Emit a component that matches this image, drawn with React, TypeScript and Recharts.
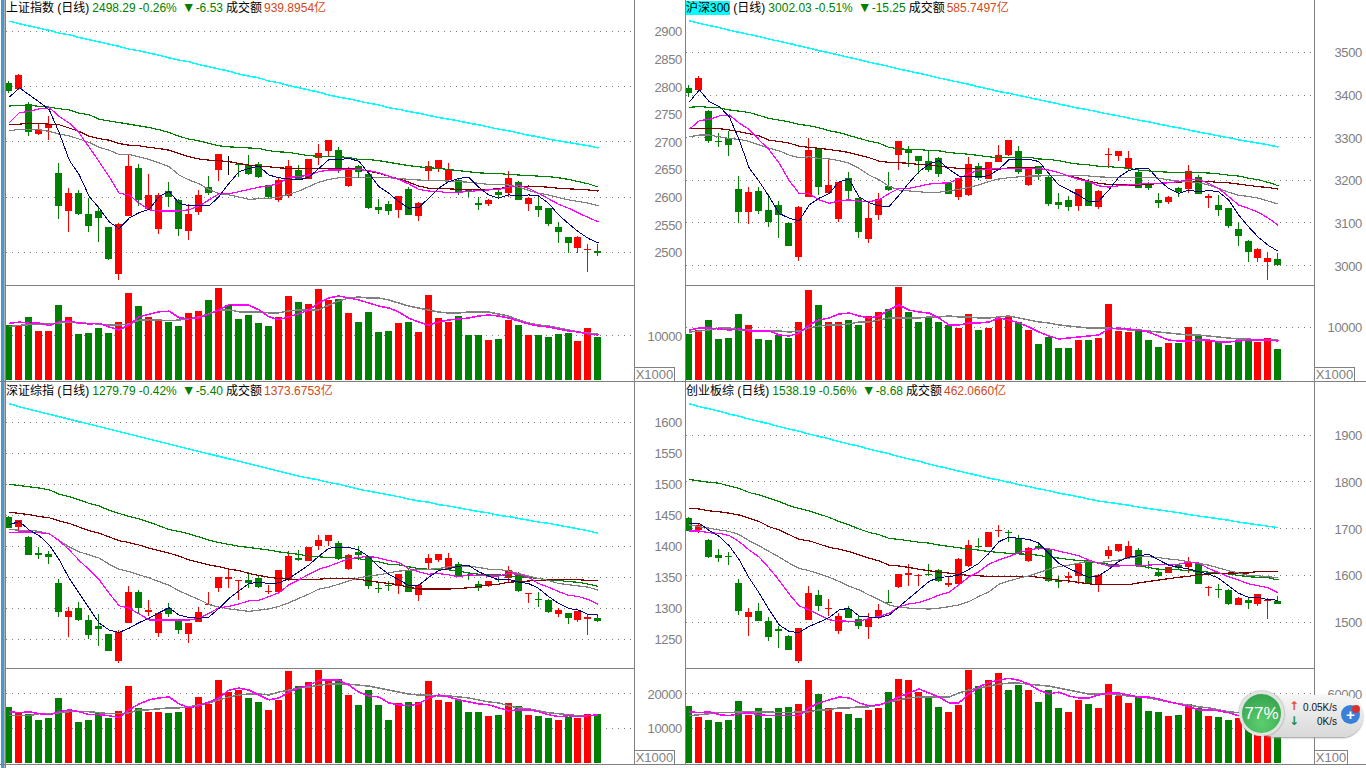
import { Bar, CartesianGrid, ComposedChart, Line, XAxis, YAxis } from 'recharts';

// 上证指数
const shOpen = [2807,2795,2769,2714,2725,2644,2575,2607,2569,2575,2546,2461,2566,2653,2578,2542,2611,2595,2539,2573,2618,2649,2665,2660,2658,2660,2622,2595,2602,2649,2633,2671,2684,2685,2620,2656,2642,2582,2587,2577,2615,2566,2647,2653,2631,2631,2612,2589,2587,2609,2607,2627,2587,2584,2580,2546,2528,2508,2504,2502];
const shClose = [2792,2821,2718,2723,2732,2584,2607,2570,2548,2562,2488,2551,2656,2595,2604,2604,2600,2542,2569,2604,2607,2678,2665,2658,2642,2636,2600,2631,2656,2633,2669,2680,2703,2649,2652,2646,2580,2577,2575,2602,2568,2589,2656,2667,2650,2607,2609,2586,2595,2604,2635,2595,2598,2577,2551,2537,2517,2528,2506,2498];
const shHigh = [2811,2823,2773,2734,2746,2662,2616,2613,2598,2584,2546,2554,2676,2660,2642,2607,2627,2597,2587,2613,2638,2678,2674,2661,2676,2664,2622,2635,2667,2658,2669,2696,2703,2691,2655,2658,2646,2596,2593,2602,2618,2591,2665,2667,2662,2633,2613,2600,2597,2613,2647,2629,2600,2600,2580,2555,2528,2529,2515,2515];
const shLow = [2788,2794,2711,2713,2703,2560,2537,2567,2537,2519,2486,2450,2566,2584,2578,2533,2582,2530,2522,2568,2604,2629,2640,2636,2640,2635,2598,2591,2598,2631,2633,2658,2674,2644,2618,2636,2578,2569,2568,2562,2568,2557,2631,2645,2631,2604,2600,2577,2584,2598,2600,2595,2575,2564,2548,2517,2499,2499,2464,2493];
const shMa5 = [2781,2798,2785,2772,2758,2716,2667,2640,2601,2580,2555,2543,2562,2572,2578,2601,2610,2589,2584,2584,2584,2601,2625,2646,2652,2656,2640,2635,2633,2631,2636,2652,2668,2668,2670,2665,2643,2619,2607,2592,2580,2581,2598,2616,2628,2634,2636,2618,2604,2598,2604,2602,2604,2602,2589,2568,2552,2537,2525,2517];
const shMa10 = [2735,2753,2755,2760,2762,2746,2734,2716,2690,2664,2637,2607,2604,2589,2577,2575,2575,2575,2577,2584,2595,2606,2606,2610,2614,2618,2620,2625,2636,2637,2640,2646,2649,2649,2650,2650,2648,2644,2638,2632,2624,2614,2611,2610,2608,2609,2610,2612,2613,2614,2618,2621,2616,2607,2597,2587,2580,2571,2563,2555];
const shMa20 = [2720,2723,2723,2722,2719,2714,2711,2705,2699,2690,2685,2677,2677,2673,2668,2662,2655,2640,2631,2624,2614,2606,2604,2600,2596,2597,2598,2600,2605,2611,2619,2627,2632,2635,2636,2636,2636,2636,2635,2634,2632,2631,2630,2630,2629,2628,2627,2625,2623,2623,2622,2618,2612,2607,2604,2599,2595,2592,2589,2584];
const shMa30 = [2732,2732,2734,2734,2732,2731,2725,2719,2710,2706,2703,2697,2694,2693,2690,2688,2685,2679,2673,2669,2667,2666,2664,2661,2658,2656,2655,2653,2652,2652,2652,2652,2652,2652,2652,2650,2647,2643,2638,2633,2627,2620,2616,2616,2615,2614,2614,2614,2614,2615,2619,2619,2620,2619,2618,2616,2615,2614,2613,2611];
const shMa60 = [2765,2766,2767,2764,2763,2760,2758,2752,2749,2741,2738,2735,2732,2729,2726,2722,2717,2710,2705,2702,2697,2693,2691,2690,2689,2688,2684,2682,2681,2678,2675,2674,2674,2673,2672,2668,2668,2666,2663,2660,2657,2655,2653,2652,2650,2648,2646,2644,2643,2643,2641,2640,2639,2638,2637,2635,2632,2628,2624,2618];
const shMa250 = [2919,2914,2910,2906,2902,2897,2894,2889,2885,2881,2877,2873,2868,2865,2861,2857,2852,2848,2845,2840,2836,2832,2828,2823,2819,2816,2810,2807,2802,2798,2794,2790,2785,2781,2778,2774,2770,2767,2762,2759,2755,2752,2748,2744,2741,2738,2734,2731,2727,2723,2720,2716,2712,2709,2705,2702,2699,2696,2693,2689];
const shVol = [12430,12430,14220,11110,11110,16890,14220,10440,10670,11780,10670,13110,19560,16670,14220,13780,13110,12220,15110,15560,18000,20670,16890,13780,14670,12890,12220,14220,18890,17560,17110,20440,17980,18200,15060,13030,15280,10790,11010,12810,13030,10790,19100,13930,13030,14380,10110,10110,8990,9210,13480,12360,10110,10110,9660,10340,10560,8760,11690,9660];
const shVolMa5 = [12730,13020,12730,12800,12210,13100,13250,12800,12580,12730,11910,11250,12360,14210,14800,15320,15470,13990,13760,13990,14800,15760,16950,16800,16800,15760,14210,13540,14210,14870,15760,17320,18430,18880,18430,17980,17300,16630,16180,15280,13930,13030,12360,13030,13480,13710,13930,14380,14610,14380,13930,13260,12580,12130,11910,11460,11010,10790,10340,10110];
const shVolMa10 = [11990,12280,12430,12580,12580,12800,13020,12800,12730,12580,12360,12360,12580,13470,13540,13470,13320,13470,13760,14210,14870,15760,15760,15320,15320,15320,15100,15100,15540,15760,15690,15760,16850,17750,18430,18650,18430,18430,17980,17300,16630,16180,15730,15280,15060,15060,15280,15280,15280,14830,14380,13480,12810,12360,12130,11680,11240,10790,10560,10340];

// 沪深300
const hsOpen = [3416,3412,3362,3292,3298,3179,3126,3175,3130,3142,3100,3020,3161,3273,3170,3109,3205,3158,3062,3118,3186,3259,3273,3257,3245,3252,3193,3161,3165,3233,3203,3243,3259,3269,3189,3233,3208,3149,3154,3140,3198,3137,3261,3257,3229,3219,3191,3154,3149,3182,3180,3208,3158,3142,3135,3086,3058,3018,3008,3015];
const hsClose = [3405,3440,3292,3291,3283,3126,3172,3128,3102,3118,3046,3137,3271,3184,3189,3196,3175,3079,3111,3156,3177,3292,3264,3245,3224,3215,3168,3205,3238,3205,3243,3259,3295,3219,3227,3215,3144,3142,3137,3180,3140,3175,3262,3269,3252,3183,3182,3147,3161,3173,3222,3168,3163,3130,3093,3069,3032,3039,3018,3002];
const hsHigh = [3423,3445,3365,3310,3315,3210,3184,3184,3168,3151,3101,3140,3299,3276,3247,3196,3219,3158,3149,3170,3219,3292,3280,3257,3271,3255,3193,3205,3255,3240,3243,3283,3295,3280,3228,3233,3210,3170,3163,3180,3203,3177,3276,3269,3269,3229,3196,3170,3163,3184,3236,3212,3168,3165,3135,3102,3060,3041,3032,3029];
const hsLow = [3396,3412,3287,3278,3257,3100,3097,3121,3090,3064,3046,3011,3161,3165,3170,3102,3154,3064,3053,3107,3175,3224,3231,3215,3219,3208,3168,3154,3163,3201,3203,3243,3257,3215,3187,3201,3140,3133,3128,3128,3140,3133,3229,3245,3224,3181,3177,3135,3144,3161,3170,3168,3135,3116,3088,3046,3008,3008,2966,2999];
const hsMa5 = [3384,3412,3384,3373,3349,3294,3228,3197,3161,3122,3111,3105,3142,3158,3169,3197,3202,3161,3147,3140,3138,3165,3194,3220,3238,3246,3226,3210,3208,3208,3211,3226,3248,3248,3249,3244,3216,3189,3177,3165,3150,3151,3177,3207,3223,3228,3228,3201,3181,3169,3177,3173,3176,3173,3154,3119,3091,3066,3047,3033];
const hsMa10 = [3320,3340,3343,3351,3353,3334,3319,3294,3271,3240,3199,3169,3168,3154,3146,3152,3154,3151,3150,3154,3169,3181,3181,3186,3191,3193,3194,3204,3216,3224,3226,3228,3228,3228,3228,3228,3224,3218,3210,3202,3197,3187,3184,3187,3189,3191,3193,3193,3194,3197,3202,3201,3193,3181,3162,3142,3134,3125,3111,3094];
const hsMa20 = [3302,3306,3306,3302,3298,3296,3291,3283,3275,3269,3259,3253,3255,3251,3250,3246,3240,3228,3212,3201,3186,3177,3175,3173,3171,3172,3175,3179,3183,3189,3197,3203,3206,3208,3210,3210,3211,3212,3212,3212,3210,3208,3207,3207,3207,3207,3207,3205,3201,3198,3197,3194,3189,3181,3172,3165,3162,3158,3151,3144];
const hsMa30 = [3321,3321,3322,3321,3318,3314,3309,3304,3294,3291,3287,3280,3277,3275,3272,3269,3265,3259,3253,3245,3242,3241,3240,3237,3236,3233,3230,3228,3227,3227,3226,3226,3229,3229,3230,3228,3224,3218,3210,3205,3198,3193,3190,3189,3189,3189,3190,3193,3194,3195,3198,3198,3197,3195,3194,3191,3188,3185,3183,3179];
const hsMa60 = [3371,3373,3371,3370,3365,3362,3359,3352,3345,3341,3337,3331,3328,3323,3316,3312,3305,3298,3292,3287,3277,3274,3272,3272,3270,3269,3265,3263,3261,3258,3255,3253,3254,3254,3254,3250,3249,3246,3241,3238,3236,3233,3232,3230,3228,3224,3222,3220,3219,3219,3219,3218,3217,3215,3212,3210,3205,3201,3195,3187];
const hsMa250 = [3574,3568,3563,3558,3552,3547,3542,3537,3531,3526,3521,3515,3510,3504,3499,3494,3488,3483,3477,3472,3467,3461,3456,3451,3446,3440,3435,3430,3425,3419,3414,3408,3404,3399,3394,3389,3384,3379,3374,3369,3365,3360,3355,3351,3346,3341,3337,3332,3327,3323,3318,3313,3309,3304,3300,3295,3291,3287,3283,3278];
const hsVol = [8680,9440,11320,7740,7930,12450,10380,7740,7550,8490,7930,10950,16980,14150,10950,10950,11320,10380,12080,12830,13400,17550,12830,10950,11890,10950,10380,9810,12450,9440,9810,11700,12080,10950,9440,6790,8110,6040,6040,7550,7550,7930,14340,9250,9060,9440,7550,6230,6980,6980,10000,8490,7550,7170,6610,7550,7550,7170,7930,5850];
const hsVolMa5 = [9440,9810,9810,9620,9440,9620,9250,9250,9250,8490,8300,8870,10380,11320,11700,12450,12640,12080,11700,12080,13210,14150,13210,12830,12640,11700,10380,10380,10760,10760,10950,11700,11320,10760,10000,9060,8300,7740,7930,8110,8300,8490,9620,9810,9620,9440,9060,8300,7550,7360,7360,7550,7550,7170,7170,7360,7550,7550,7550,7360];
const hsVolMa10 = [9060,9250,9440,9810,9810,9440,9440,9250,9250,9250,9060,9250,9810,10190,10380,10380,10570,10950,10950,11320,11700,11700,11700,11700,11890,11890,12080,11890,11890,11700,11700,11890,12080,11700,11320,10950,10760,10380,10190,10000,9810,9810,9810,9620,9440,9440,9250,9060,8870,8680,8490,8490,8300,8110,7930,7740,7740,7550,7550,7550];

// 深证综指
const szOpen = [1447,1431,1415,1389,1388,1341,1286,1301,1281,1271,1259,1215,1276,1326,1294,1260,1301,1283,1259,1278,1305,1333,1347,1344,1346,1349,1326,1326,1346,1381,1376,1400,1409,1405,1363,1391,1383,1333,1338,1336,1362,1321,1373,1378,1363,1371,1354,1339,1336,1348,1349,1355,1323,1315,1313,1291,1292,1281,1283,1284];
const szClose = [1430,1442,1386,1386,1383,1294,1296,1281,1257,1267,1231,1262,1326,1301,1297,1292,1291,1265,1276,1294,1307,1351,1351,1346,1341,1334,1328,1362,1384,1378,1399,1410,1418,1380,1386,1386,1336,1331,1336,1355,1326,1338,1381,1388,1381,1352,1352,1333,1344,1346,1362,1328,1324,1313,1294,1297,1284,1296,1286,1279];
const szHigh = [1449,1442,1417,1399,1392,1347,1302,1310,1289,1291,1259,1265,1336,1330,1313,1294,1309,1283,1276,1302,1326,1351,1362,1346,1359,1354,1338,1362,1392,1394,1399,1418,1418,1409,1388,1400,1384,1341,1344,1355,1365,1339,1388,1388,1389,1375,1359,1344,1344,1354,1368,1359,1324,1326,1315,1300,1292,1296,1289,1291];
const szLow = [1429,1427,1386,1380,1371,1286,1254,1280,1251,1239,1231,1212,1276,1292,1288,1254,1286,1259,1244,1278,1305,1326,1333,1313,1333,1333,1323,1326,1344,1376,1376,1394,1400,1378,1362,1378,1331,1325,1328,1323,1326,1312,1363,1375,1363,1350,1346,1328,1334,1342,1342,1326,1309,1302,1292,1286,1275,1278,1257,1278];
const szMa5 = [1435,1440,1426,1417,1402,1378,1348,1324,1300,1276,1265,1261,1268,1277,1284,1293,1301,1289,1285,1284,1286,1300,1316,1328,1340,1342,1340,1341,1348,1359,1370,1384,1397,1398,1398,1394,1383,1367,1355,1346,1337,1337,1350,1361,1364,1368,1369,1359,1352,1346,1347,1342,1340,1332,1319,1308,1300,1297,1290,1289];
const szMa10 = [1422,1423,1423,1422,1420,1409,1394,1377,1362,1346,1324,1304,1300,1291,1281,1281,1281,1281,1281,1284,1292,1301,1303,1307,1312,1313,1319,1325,1338,1346,1355,1363,1368,1374,1380,1382,1384,1381,1377,1374,1364,1359,1355,1356,1354,1351,1354,1353,1352,1352,1356,1355,1350,1340,1334,1327,1321,1319,1314,1306];
const szMa20 = [1427,1426,1426,1424,1420,1409,1399,1391,1386,1381,1371,1363,1359,1354,1349,1343,1337,1328,1321,1314,1306,1302,1299,1297,1295,1297,1299,1303,1309,1316,1323,1331,1334,1339,1344,1349,1352,1354,1357,1360,1361,1363,1363,1364,1367,1368,1368,1366,1363,1363,1360,1356,1352,1348,1345,1340,1338,1336,1334,1329];
const szMa30 = [1455,1453,1451,1448,1446,1441,1437,1431,1425,1421,1415,1409,1406,1402,1397,1393,1389,1384,1378,1374,1370,1367,1363,1361,1356,1353,1350,1348,1347,1347,1347,1347,1348,1348,1348,1347,1344,1342,1340,1338,1334,1331,1331,1331,1331,1332,1333,1335,1338,1339,1342,1343,1344,1345,1346,1346,1346,1346,1345,1345];
const szMa60 = [1500,1498,1496,1494,1491,1484,1480,1475,1469,1465,1458,1453,1448,1444,1439,1433,1427,1424,1420,1415,1410,1406,1403,1400,1398,1396,1394,1391,1389,1387,1384,1383,1382,1382,1381,1380,1377,1375,1371,1370,1367,1364,1363,1363,1362,1360,1357,1355,1355,1354,1352,1351,1350,1348,1346,1345,1343,1342,1339,1335];
const szMa250 = [1630,1625,1621,1617,1613,1609,1605,1601,1597,1593,1589,1585,1581,1577,1573,1569,1565,1561,1557,1553,1549,1545,1541,1537,1533,1529,1525,1521,1517,1513,1510,1507,1503,1500,1496,1492,1489,1486,1483,1480,1476,1473,1471,1467,1465,1462,1459,1456,1454,1450,1448,1445,1442,1439,1437,1434,1431,1428,1425,1421];
const szVol = [16290,14860,14290,12570,13140,18860,15430,12000,12570,14860,13140,15140,22290,16000,14860,14860,14570,14860,16000,19140,17140,24000,20570,21140,18860,17710,15430,18290,26570,22290,23430,26860,24000,24290,19710,16860,21140,16860,12570,17430,17710,17710,23710,18290,17710,18290,14860,14860,13710,14000,17430,16570,14000,13710,13140,12570,13430,13140,14290,14290];
const szVolMa5 = [14860,14570,14860,14290,14000,14860,15430,14860,14000,14000,13710,13140,15430,17140,18290,18860,19140,17140,16000,16570,17710,18860,21140,21710,21140,19710,18290,18860,20570,21710,22570,24000,24000,24000,22570,20570,19430,19140,17430,16860,16570,17140,18860,19710,19140,18290,17710,17140,16860,16000,15140,15430,15430,14860,14000,13430,13710,13430,13710,14000];
const szVolMa10 = [13710,13710,13710,14290,14290,14570,14860,14860,14860,14570,14290,14290,14570,15430,15430,15710,16000,16000,16290,16860,17430,18290,19140,19710,20000,20000,19710,20570,21140,21710,22000,22570,22860,22860,22860,22570,22280,21710,21140,20570,20000,19710,19710,19430,19430,19140,18860,18290,17710,17430,16570,16000,15710,15140,14570,14290,14000,13710,13710,13710];

// 创业板综
const cyOpen = [1723,1697,1676,1644,1642,1584,1511,1524,1503,1485,1471,1417,1505,1558,1529,1481,1528,1507,1490,1509,1543,1575,1601,1600,1603,1612,1580,1582,1620,1663,1661,1695,1693,1680,1631,1663,1657,1590,1595,1599,1633,1582,1642,1652,1637,1654,1622,1607,1605,1622,1618,1625,1575,1570,1569,1537,1548,1539,1545,1545];
const cyClose = [1695,1708,1640,1637,1640,1524,1522,1503,1469,1481,1441,1488,1563,1535,1530,1513,1509,1492,1507,1526,1541,1603,1605,1601,1601,1588,1584,1635,1665,1661,1693,1697,1692,1648,1659,1657,1588,1586,1599,1625,1583,1601,1654,1667,1663,1622,1620,1599,1618,1616,1629,1582,1576,1568,1539,1552,1541,1560,1548,1538];
const cyHigh = [1725,1710,1678,1657,1650,1592,1530,1541,1511,1492,1473,1488,1577,1569,1550,1520,1535,1516,1520,1539,1569,1603,1625,1603,1625,1614,1599,1637,1676,1680,1693,1708,1697,1687,1661,1672,1657,1599,1607,1627,1635,1603,1663,1667,1674,1659,1631,1616,1618,1625,1639,1629,1578,1582,1571,1554,1554,1560,1552,1556];
const cyLow = [1695,1691,1637,1629,1622,1516,1471,1503,1460,1445,1441,1413,1505,1524,1513,1475,1509,1486,1464,1507,1541,1573,1577,1577,1599,1586,1575,1580,1618,1659,1661,1682,1672,1646,1629,1654,1586,1573,1584,1582,1582,1565,1635,1650,1637,1618,1614,1597,1605,1612,1605,1582,1556,1552,1537,1537,1528,1535,1507,1538];
const cyMa5 = [1710,1711,1696,1683,1663,1633,1594,1562,1526,1494,1480,1478,1491,1500,1510,1526,1530,1513,1511,1510,1515,1533,1551,1569,1587,1596,1597,1601,1613,1626,1647,1672,1682,1679,1677,1669,1647,1626,1615,1605,1596,1599,1613,1630,1639,1642,1645,1633,1622,1617,1614,1608,1603,1594,1578,1562,1553,1553,1548,1547];
const cyMa10 = [1695,1695,1691,1690,1685,1672,1654,1639,1615,1589,1560,1535,1526,1516,1505,1503,1502,1502,1508,1512,1519,1533,1539,1542,1549,1558,1564,1580,1597,1608,1624,1633,1640,1649,1654,1658,1657,1652,1647,1642,1633,1626,1620,1620,1622,1620,1622,1624,1624,1624,1628,1626,1615,1606,1597,1590,1582,1578,1573,1562];
const cyMa20 = [1708,1704,1701,1697,1694,1687,1674,1663,1651,1639,1626,1615,1610,1603,1596,1587,1577,1569,1558,1548,1537,1532,1530,1529,1528,1530,1533,1537,1544,1555,1565,1581,1588,1594,1599,1606,1613,1619,1622,1626,1630,1627,1630,1633,1637,1640,1640,1638,1635,1633,1629,1626,1622,1616,1610,1605,1600,1599,1597,1595];
const cyMa30 = [1743,1742,1738,1736,1733,1729,1722,1715,1704,1697,1687,1677,1674,1667,1660,1656,1651,1644,1637,1631,1622,1620,1617,1613,1610,1607,1605,1602,1600,1599,1598,1598,1598,1598,1598,1596,1593,1590,1588,1585,1582,1580,1580,1580,1580,1584,1587,1590,1593,1596,1598,1602,1603,1604,1605,1605,1605,1609,1609,1609];
const cyMa60 = [1805,1802,1799,1797,1791,1786,1777,1772,1765,1758,1749,1743,1738,1731,1724,1715,1708,1699,1692,1687,1679,1677,1674,1671,1669,1665,1662,1659,1657,1654,1651,1649,1647,1646,1645,1643,1639,1637,1634,1632,1630,1626,1624,1622,1621,1620,1617,1613,1612,1612,1610,1609,1607,1605,1603,1600,1597,1596,1595,1590];
const cyMa250 = [1967,1961,1956,1951,1945,1940,1934,1929,1924,1918,1913,1908,1902,1897,1892,1886,1881,1876,1870,1865,1860,1854,1849,1844,1838,1833,1828,1823,1818,1813,1808,1804,1799,1794,1790,1785,1781,1776,1772,1768,1763,1759,1756,1753,1750,1746,1743,1740,1737,1734,1730,1727,1724,1721,1718,1714,1711,1708,1705,1702];
const cyVol = [49710,40280,37710,35990,37710,53990,41990,47990,39420,47990,48850,51420,71990,59990,47990,44560,42850,39420,46280,47990,61700,72850,71990,61700,58280,48850,44560,50560,80560,66850,71990,77990,63420,67700,63420,53130,63420,47990,44560,54850,51420,47990,68560,58280,52280,58280,45420,44560,41140,41990,51420,47990,41140,40280,37710,39420,39420,39420,39420,39420];
const cyVolMa5 = [44560,43710,44560,41990,41140,42850,43710,41990,41140,41140,41140,41140,47990,52280,54850,57420,56560,52280,49710,50560,53130,57420,60850,64280,60850,57420,52280,52280,59990,65990,70270,71990,73700,71990,68560,63420,59990,61700,58280,56560,56560,59130,60850,60850,59130,57420,57420,55710,53130,51420,48850,46280,46280,45420,43710,41140,41990,41990,41140,41140];
const cyVolMa10 = [41140,41990,42850,43710,43710,44560,44560,44560,44560,43710,43710,44560,44560,46280,46280,47990,47990,48850,48850,50560,53130,54850,56560,57420,57420,57420,57420,60850,63420,65130,66850,68560,69420,69420,68560,67700,66850,65130,63420,61700,59990,59990,59990,59130,58280,57420,56560,54850,53130,51420,50560,48850,47990,46280,44560,43710,42850,41990,41140,41140];

const shPriceTicks = [2500, 2550, 2600, 2650, 2700, 2750, 2800, 2850, 2900];
const shGridTicks = [2500, 2600, 2700, 2800, 2900];
const hsPriceTicks = [3000, 3100, 3200, 3300, 3400, 3500];
const szPriceTicks = [1250, 1300, 1350, 1400, 1450, 1500, 1550, 1600];
const cyPriceTicks = [1500, 1600, 1700, 1800, 1900];

const RED = '#ff0000';
const GREEN = '#008000';
const GRAY = '#808080';
const FONT = "'Liberation Sans', 'Noto Sans CJK SC', sans-serif";

const zip = (o, h, l, c, m5, m10, m20, m30, m60, m250, v, vm5, vm10) =>
  o.map((open, i) => ({
    i, open, high: h[i], low: l[i], close: c[i],
    ma5: m5[i], ma10: m10[i], ma20: m20[i], ma30: m30[i], ma60: m60[i], ma250: m250[i],
    vol: v[i], volMa5: vm5[i], volMa10: vm10[i],
  }));

const candleColor = (d) => (d.close > d.open ? RED : d.close < d.open ? GREEN : '#000000');

const CandleShape = (props: any) => {
  const { x, y, width, height, payload: d } = props;
  const range = d.high - d.low;
  const unit = Math.abs(height) / range;
  const cx = Math.floor(x + width / 2);
  const top = Math.round(y);
  const bottom = Math.round(y + Math.abs(height));
  const bodyTop = Math.round(y + (d.high - Math.max(d.open, d.close)) * unit);
  const bodyBottom = Math.round(y + (d.high - Math.min(d.open, d.close)) * unit);
  const color = candleColor(d);
  return (
    <g>
      <rect x={cx} y={top} width={1} height={Math.max(bottom - top, 1)} fill={color} />
      <rect x={cx - 3} y={bodyTop} width={7} height={Math.max(bodyBottom - bodyTop, 1)} fill={color} />
    </g>
  );
};

const VolumeShape = (props: any) => {
  const { x, y, width, height, payload: d } = props;
  const cx = Math.floor(x + width / 2);
  const top = Math.round(y);
  return <rect x={cx - 3} y={top} width={7} height={Math.round(y + height) - top} fill={d.close > d.open ? RED : GREEN} />;
};

const axisTick = (props: any) => (
  <text
    x={props.x + 48}
    y={props.y + 5}
    textAnchor="end"
    fill={GRAY}
    fontFamily={FONT}
    fontSize={13}
    letterSpacing={-0.35}
  >
    {props.payload.value}
  </text>
);

const XDomain = [-0.34, 62.56];

// the terminal draws aliased lines, crispEdges is inherited by every svg child
const PriceChart = ({ rows, left, top, width, height, axisWidth, domain, ticks, gridTicks }: any) => (
  <div style={{ position: 'absolute', left, top, shapeRendering: 'crispEdges' }}>
    <ComposedChart width={width} height={height} data={rows} margin={{ top: 0, right: 0, bottom: 0, left: 0 }}>
      <CartesianGrid vertical={false} horizontalValues={gridTicks} stroke="#808080" strokeDasharray="1 5" />
      <XAxis dataKey="i" type="number" domain={XDomain} allowDataOverflow hide />
      <YAxis
        orientation="right"
        type="number"
        width={axisWidth}
        domain={domain}
        ticks={ticks}
        interval={0}
        allowDataOverflow
        axisLine={false}
        tickLine={false}
        tickSize={0}
        tickMargin={0}
        tick={axisTick}
      />
      <Bar dataKey={(d: any) => [d.low, d.high]} barSize={7} shape={CandleShape} isAnimationActive={false} />
      <Line dataKey="ma250" stroke="#00ffff" dot={false} activeDot={false} strokeWidth={1.5} isAnimationActive={false} />
      <Line dataKey="ma60" stroke="#008000" dot={false} activeDot={false} strokeWidth={1.2} isAnimationActive={false} />
      <Line dataKey="ma30" stroke="#800000" dot={false} activeDot={false} strokeWidth={1.2} isAnimationActive={false} />
      <Line dataKey="ma20" stroke="#808080" dot={false} activeDot={false} strokeWidth={1.2} isAnimationActive={false} />
      <Line dataKey="ma10" stroke="#ff00ff" dot={false} activeDot={false} strokeWidth={1.2} isAnimationActive={false} />
      <Line dataKey="ma5" stroke="#000080" dot={false} activeDot={false} strokeWidth={1} isAnimationActive={false} />
    </ComposedChart>
  </div>
);

const VolumeChart = ({ rows, left, top, width, axisWidth, max, ticks, gridTicks }: any) => (
  <div style={{ position: 'absolute', left, top, shapeRendering: 'crispEdges' }}>
    <ComposedChart width={width} height={94} data={rows} margin={{ top: 0, right: 0, bottom: 0, left: 0 }}>
      <CartesianGrid vertical={false} horizontalValues={gridTicks} stroke="#808080" strokeDasharray="1 5" />
      <XAxis dataKey="i" type="number" domain={XDomain} allowDataOverflow hide />
      <YAxis
        orientation="right"
        type="number"
        width={axisWidth}
        domain={[0, max]}
        ticks={ticks}
        interval={0}
        allowDataOverflow
        axisLine={false}
        tickLine={false}
        tickSize={0}
        tickMargin={0}
        tick={axisTick}
      />
      <Bar dataKey="vol" barSize={7} shape={VolumeShape} isAnimationActive={false} />
      <Line dataKey="volMa10" stroke="#808080" dot={false} activeDot={false} strokeWidth={1.5} isAnimationActive={false} />
      <Line dataKey="volMa5" stroke="#ff00ff" dot={false} activeDot={false} strokeWidth={1.5} isAnimationActive={false} />
    </ComposedChart>
  </div>
);

const Title = ({ left, top, name, highlight, price, pct, change, amount }: any) => (
  <div style={{ position: 'absolute', left, top, height: 15, lineHeight: '15px', fontSize: 12, fontFamily: FONT, whiteSpace: 'nowrap', color: GREEN }}>
    <span style={{ color: '#000', background: highlight ? '#00ffff' : 'transparent' }}>{name}</span>
    <span style={{ color: '#000' }}> (日线)</span>
    <span style={{ marginLeft: 3 }}>{price}</span>
    <span style={{ marginLeft: 3 }}>{pct}</span>
    <span style={{ marginLeft: 5, fontSize: 14, lineHeight: '14px' }}>▼</span>
    <span>{change}</span>
    <span style={{ marginLeft: 3, color: '#000' }}>成交额</span>
    <span style={{ marginLeft: 2, color: '#d2491a' }}>{amount}亿</span>
  </div>
);

const Box = ({ left, top, width, label }: any) => (
  <div
    style={{
      position: 'absolute', left, top, width, height: 15, boxSizing: 'border-box', border: `1px solid ${GRAY}`,
      background: '#fff', color: GRAY, fontFamily: FONT, fontSize: 13, lineHeight: '14px', textAlign: 'center',
    }}
  >
    {label}
  </div>
);

const rule = (left, top, width, height, background = GRAY) => (
  <div key={`${left}-${top}-${width}`} style={{ position: 'absolute', left, top, width, height, background }} />
);

const Widget = () => (
  <div style={{ position: 'absolute', left: 0, top: 0, fontFamily: FONT }}>
    <div
      style={{
        position: 'absolute', left: 1255, top: 695, width: 108, height: 42, borderRadius: 21, boxSizing: 'border-box',
        background: 'linear-gradient(#f6f6f6, #d8d8d8)', boxShadow: '0 1px 2px #999',
      }}
    />
    <div
      style={{
        position: 'absolute', left: 1239, top: 691, width: 45, height: 45, borderRadius: '50%', boxSizing: 'border-box',
        border: '3px solid #dfe4df', boxShadow: '0 0 2px #667', background: 'radial-gradient(circle at 50% 75%, #5ccf70, #2f9a48)',
        color: '#fff', fontSize: 17, lineHeight: '39px', textAlign: 'center',
      }}
    >
      77%
    </div>
    <div style={{ position: 'absolute', left: 1289, top: 699, fontSize: 12, fontFamily: "'DejaVu Sans'", color: '#e0552a', fontWeight: 700 }}>↑</div>
    <div style={{ position: 'absolute', left: 1289, top: 714, fontSize: 12, fontFamily: "'DejaVu Sans'", color: '#1e8c4a', fontWeight: 700 }}>↓</div>
    <div style={{ position: 'absolute', left: 1300, top: 702, width: 37, textAlign: 'right', fontSize: 10, color: '#111' }}>0.05K/s</div>
    <div style={{ position: 'absolute', left: 1300, top: 716, width: 37, textAlign: 'right', fontSize: 10, color: '#111' }}>0K/s</div>
    <div
      style={{
        position: 'absolute', left: 1341, top: 705, width: 19, height: 19, borderRadius: '50%', background: '#3a7fd8',
        color: '#fff', fontSize: 15, fontWeight: 700, lineHeight: '19px', textAlign: 'center',
      }}
    >
      +
    </div>
    <div style={{ position: 'absolute', left: 1352, top: 705, width: 8, height: 8, borderRadius: '50%', background: '#d83030' }} />
  </div>
);

const shRows = zip(shOpen, shHigh, shLow, shClose, shMa5, shMa10, shMa20, shMa30, shMa60, shMa250, shVol, shVolMa5, shVolMa10);
const hsRows = zip(hsOpen, hsHigh, hsLow, hsClose, hsMa5, hsMa10, hsMa20, hsMa30, hsMa60, hsMa250, hsVol, hsVolMa5, hsVolMa10);
const szRows = zip(szOpen, szHigh, szLow, szClose, szMa5, szMa10, szMa20, szMa30, szMa60, szMa250, szVol, szVolMa5, szVolMa10);
const cyRows = zip(cyOpen, cyHigh, cyLow, cyClose, cyMa5, cyMa10, cyMa20, cyMa30, cyMa60, cyMa250, cyVol, cyVolMa5, cyVolMa10);

export default function App() {
  return (
    <div style={{ position: 'fixed', left: 0, top: 0, width: 1366, height: 768, background: '#fff', overflow: 'hidden' }}>
      <PriceChart rows={shRows} left={6} top={0} width={679} height={285} axisWidth={51} domain={[2440.8, 2957]} ticks={shPriceTicks} gridTicks={shGridTicks} />
      <PriceChart rows={hsRows} left={686} top={0} width={680} height={285} axisWidth={52} domain={[2954.3, 3622.9]} ticks={hsPriceTicks} gridTicks={hsPriceTicks} />
      <PriceChart rows={szRows} left={6} top={382} width={679} height={286} axisWidth={51} domain={[1203.7, 1665]} ticks={szPriceTicks} gridTicks={szPriceTicks} />
      <PriceChart rows={cyRows} left={686} top={382} width={680} height={286} axisWidth={52} domain={[1402, 2013.5]} ticks={cyPriceTicks} gridTicks={cyPriceTicks} />

      <VolumeChart rows={shRows} left={6} top={286} width={679} axisWidth={51} max={21124} ticks={[10000]} gridTicks={[10000]} />
      <VolumeChart rows={hsRows} left={686} top={286} width={680} axisWidth={52} max={17736} ticks={[10000]} gridTicks={[10000]} />
      <VolumeChart rows={szRows} left={6} top={669} width={679} axisWidth={51} max={27246} ticks={[10000, 20000]} gridTicks={[10000, 20000]} />
      <VolumeChart rows={cyRows} left={686} top={669} width={680} axisWidth={52} max={81739} ticks={[60000]} gridTicks={[30000, 60000]} />

      {rule(1, 0, 3, 768, '#3f9ad6')}
      {rule(4, 0, 1, 768, '#b0b0b0')}
      {rule(5, 0, 1, 768)}
      {rule(634, 0, 1, 765)}
      {rule(685, 0, 1, 765)}
      {rule(1314, 0, 1, 765)}
      {rule(6, 285, 628, 1)}
      {rule(686, 285, 628, 1)}
      {rule(6, 668, 628, 1)}
      {rule(686, 668, 628, 1)}
      {rule(0, 381, 1366, 1)}
      {rule(0, 764, 1366, 1)}

      <Box left={634} top={367} width={41} label="X1000" />
      <Box left={1314} top={367} width={41} label="X1000" />
      <Box left={634} top={750} width={41} label="X1000" />
      <Box left={1314} top={750} width={34} label="X100" />

      <Title left={6} top={0} name="上证指数" price="2498.29" pct="-0.26%" change="-6.53" amount="939.8954" />
      <Title left={686} top={0} name="沪深300" highlight price="3002.03" pct="-0.51%" change="-15.25" amount="585.7497" />
      <Title left={6} top={383} name="深证综指" price="1279.79" pct="-0.42%" change="-5.40" amount="1373.6753" />
      <Title left={686} top={383} name="创业板综" price="1538.19" pct="-0.56%" change="-8.68" amount="462.0660" />

      <Widget />
    </div>
  );
}
